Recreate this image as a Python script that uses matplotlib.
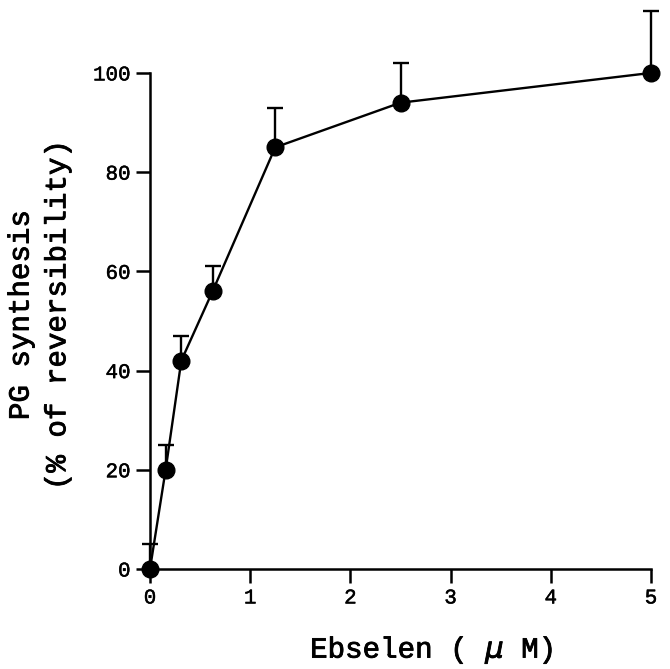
import matplotlib
matplotlib.use('Agg')
import matplotlib.pyplot as plt
import matplotlib.patheffects as pe
import numpy as np

# Ebselen dose response
conc = [0, 0.156, 0.3125, 0.625, 1.25, 2.5, 5]
pg_synthesis = [0, 20, 42, 56, 85, 94, 100]
err_upper = [5, 5, 5, 5, 8, 8, 12.4]
x_ticks = [0, 1, 2, 3, 4, 5]
y_ticks = [0, 20, 40, 60, 80, 100]

plt.rcParams['font.family'] = ['Liberation Mono', 'DejaVu Sans']
plt.rcParams['mathtext.fontset'] = 'dejavusans'

fig = plt.figure(figsize=(6.70, 6.69), dpi=100)
ax = fig.add_axes([150 / 670, 1 - 569 / 669, 501 / 670, 568 / 669])

err = [np.zeros(len(err_upper)), err_upper]
ax.errorbar(conc, pg_synthesis, yerr=err, fmt='-o', color='black',
            lw=1.7, ms=12, elinewidth=1.7, capsize=6, capthick=1.7,
            clip_on=False, zorder=3)

ax.set_xlim(0, 5)
ax.set_ylim(0, 114.5)
ax.spines['top'].set_visible(False)
ax.spines['right'].set_visible(False)
ax.spines['left'].set_bounds(0, 100)
ax.spines['left'].set_linewidth(1.8)
ax.spines['bottom'].set_linewidth(1.8)
ax.set_xticks(x_ticks)
ax.set_yticks(y_ticks)
ax.tick_params(direction='out', length=10, width=1.8, labelsize=15, pad=4)

# thicken the thin mono font a little, like the scanned original
thick = [pe.withStroke(linewidth=0.35, foreground='black')]
for lbl in ax.get_xticklabels() + ax.get_yticklabels():
    lbl.set_path_effects(thick)

xl = ax.set_xlabel('Ebselen ( $\\mu$ M)', fontsize=21)
ax.xaxis.set_label_coords(0.562, -0.114)
yl = ax.set_ylabel('PG synthesis\n(% of reversibility)', fontsize=21,
                   linespacing=1.4)
ax.yaxis.set_label_coords(-0.157, 0.447)
thick2 = [pe.withStroke(linewidth=0.6, foreground='black')]
xl.set_path_effects(thick2)
yl.set_path_effects(thick2)

fig.savefig('out.png', dpi=100)
